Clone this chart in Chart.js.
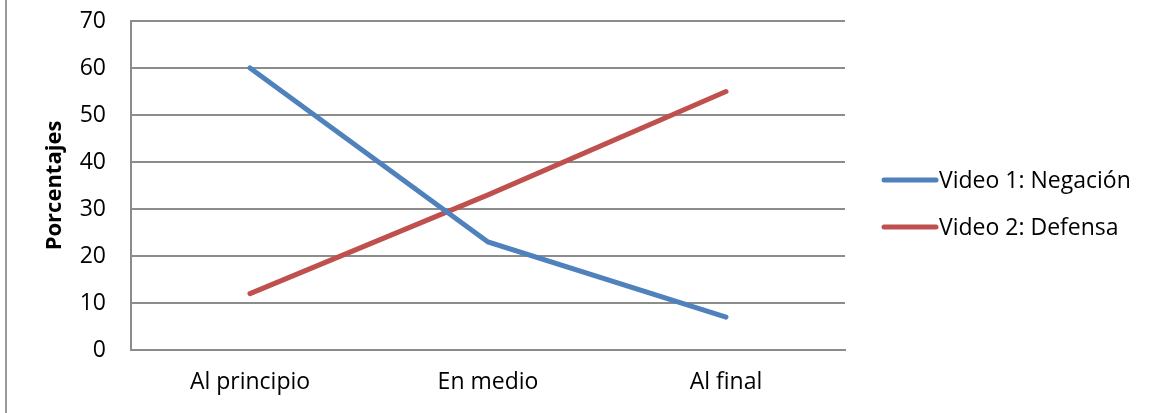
<!DOCTYPE html>
<html>
<head>
<meta charset="utf-8">
<script src="https://cdn.jsdelivr.net/npm/chart.js@4/dist/chart.umd.min.js"></script>
<style>
  html, body { margin: 0; padding: 0; background: #fff; }
  #wrap { position: relative; width: 1158px; height: 413px; }
</style>
</head>
<body>
<div id="wrap"><canvas id="chart" width="1158" height="413"></canvas></div>
<script>
// data
const categories = ['Al principio', 'En medio', 'Al final'];
const negacion = [60, 23, 7];
const defensa = [12, 33, 55];
const seriesNames = ['Video 1: Negación', 'Video 2: Defensa'];
const seriesColors = ['#4F81BD', '#C0504D'];
const yTicks = [0, 10, 20, 30, 40, 50, 60, 70];

const FONT = '"Open Sans", "Liberation Sans", sans-serif';
const FSIZE = 23;
const gridGray = '#8c8c8c';

// thin frame line on the left, like the original cut-off border
const leftFrame = {
    id: 'leftFrame',
    beforeDraw(chart) {
        const c = chart.ctx;
        c.save();
        c.strokeStyle = '#9a9a9a';
        c.lineWidth = 2;
        c.beginPath();
        c.moveTo(6, 0);
        c.lineTo(6, chart.height);
        c.stroke();
        c.restore();
    }
};

// legend drawn by hand so the line swatch sits right next to the text
const sideLegend = {
    id: 'sideLegend',
    afterDraw(chart) {
        const c = chart.ctx;
        const rows = [180, 227];
        c.save();
        c.font = FSIZE + 'px ' + FONT;
        c.textBaseline = 'middle';
        c.fillStyle = '#000';
        chart.data.datasets.forEach((ds, i) => {
            const y = rows[i];
            c.strokeStyle = ds.borderColor;
            c.lineWidth = 5;
            c.lineCap = 'round';
            c.beginPath();
            c.moveTo(884, y);
            c.lineTo(936, y);
            c.stroke();
            c.fillText(ds.label, 939, y + 1);
        });
        c.restore();
    }
};

new Chart(document.getElementById('chart'), {
    type: 'line',
    data: {
        labels: categories,
        datasets: [
            {
                label: seriesNames[0],
                data: negacion,
                borderColor: seriesColors[0],
                backgroundColor: seriesColors[0],
                borderWidth: 5,
                borderCapStyle: 'round',
                pointRadius: 0,
                tension: 0
            },
            {
                label: seriesNames[1],
                data: defensa,
                borderColor: seriesColors[1],
                backgroundColor: seriesColors[1],
                borderWidth: 5,
                borderCapStyle: 'round',
                pointRadius: 0,
                tension: 0
            }
        ]
    },
    options: {
        responsive: false,
        animation: false,
        layout: { padding: { top: 21, right: 313, left: 0, bottom: 0 } },
        plugins: {
            legend: { display: false },
            tooltip: { enabled: false }
        },
        scales: {
            x: {
                offset: true,
                grid: { display: false, drawTicks: false },
                border: { display: true, color: gridGray, width: 2 },
                ticks: {
                    color: '#000',
                    font: { family: FONT, size: FSIZE },
                    padding: 19
                },
                afterFit(scale) { scale.height = 63; }
            },
            y: {
                min: 0,
                max: 70,
                afterBuildTicks(scale) {
                    scale.ticks = yTicks.map(v => ({ value: v }));
                },
                grid: { color: gridGray, lineWidth: 2, drawTicks: false },
                border: { display: true, color: gridGray, width: 2 },
                ticks: {
                    color: '#000',
                    font: { family: FONT, size: FSIZE },
                    padding: 25
                },
                title: {
                    display: true,
                    text: 'Porcentajes',
                    color: '#000',
                    font: { family: FONT, size: FSIZE - 1, weight: 'bold' },
                    padding: { top: 42, bottom: 0 }
                },
                afterFit(scale) {
                    scale.width = 131;
                    scale.paddingTop = 0;
                    scale.paddingBottom = 0;
                }
            }
        }
    },
    plugins: [leftFrame, sideLegend]
});
</script>
</body>
</html>
